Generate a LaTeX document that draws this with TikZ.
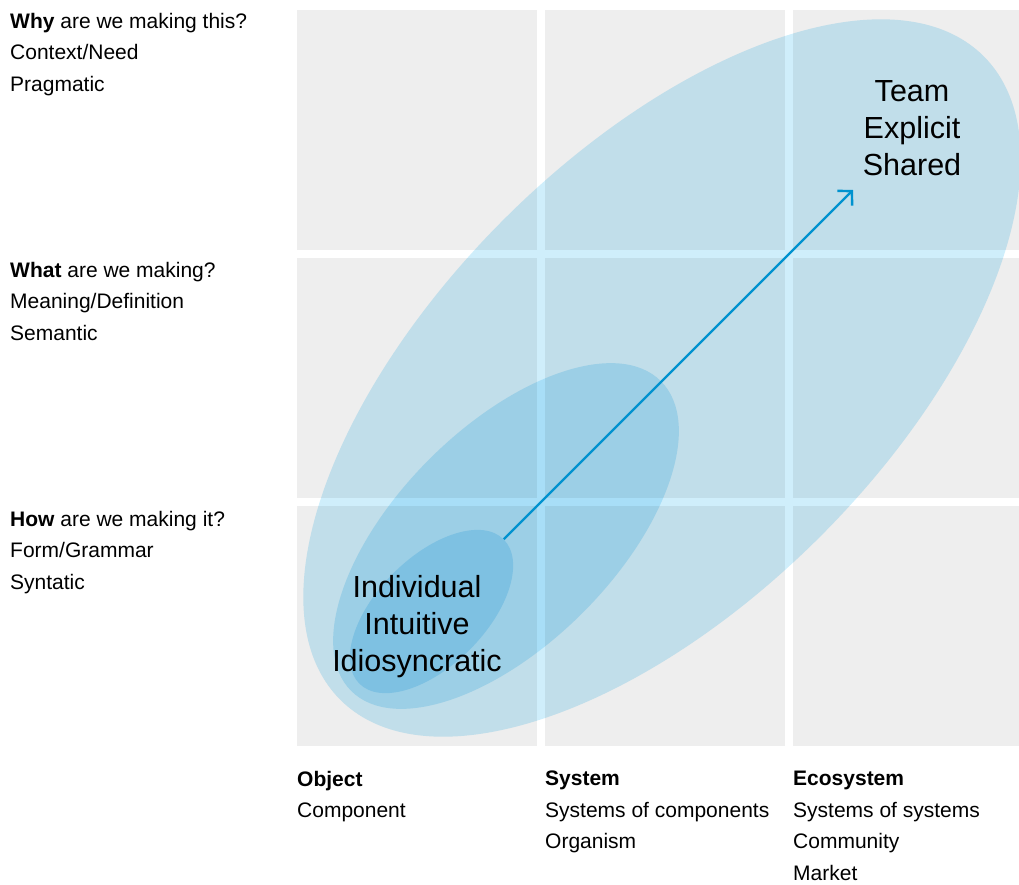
\documentclass[tikz,border=0pt]{standalone}
\usepackage{fontspec}
\setmainfont{Liberation Sans}
\usetikzlibrary{shapes.geometric,arrows.meta}
\definecolor{cellgray}{HTML}{EEEEEE}
\definecolor{blobblue}{RGB}{207,238,251}
\definecolor{arrowblue}{RGB}{0,146,207}

\begin{document}
\begin{tikzpicture}[x=1pt, y=-1pt,
    cell/.style={fill=cellgray},
    blob/.style={ellipse, fill=blobblue, inner sep=0pt, rotate=45},
    arrowline/.style={draw=arrowblue, line width=2.4pt, -{Straight Barb[length=10pt, width=21pt]}},
    axislabel/.style={anchor=north west, inner sep=0pt, align=left, font=\fontsize{21}{31.5}\selectfont},
    biglabel/.style={anchor=north, inner sep=0pt, align=center, font=\fontsize{30.5}{37}\selectfont}]
    \useasboundingbox (0,0) rectangle (1019,884);

    % Grid of cells
    \foreach \cx in {297,545,793} {
      \foreach \cy in {10,258,506} {
        \fill[cell] (\cx,\cy) rectangle ++(240,239.5);
      }
    }

    % Ellipses
    \begin{scope}[blend mode=multiply]
    \node (outerblob) [blob, minimum width=910pt, minimum height=448pt] at (662,378) {};
    \node (midblob) [blob, minimum width=438pt, minimum height=217pt] at (506,536) {};
    \node (innerblob) [blob, minimum width=204pt, minimum height=108pt] at (431.5,611.5) {};
    \end{scope}

    % Arrow
    \coordinate (tip) at (853,190);
    \draw[arrowline] (innerblob.east) -- (tip);

    % Row labels
    \node (why) [axislabel] at (10,12.7) {\textbf{Why} are we making this?\\Context/Need\\Pragmatic};
    \node (what) [axislabel] at (10,261.7) {\textbf{What} are we making?\\Meaning/Definition\\Semantic};
    \node (how) [axislabel] at (10,510.7) {\textbf{How} are we making it?\\Form/Grammar\\Syntatic};

    % Column labels
    \node (object) [axislabel] at (297,771) {\textbf{Object}\\Component};
    \node (system) [axislabel] at (545,771) {\textbf{System}\\Systems of components\\Organism};
    \node (ecosystem) [axislabel] at (793,771) {\textbf{Ecosystem}\\Systems of systems\\Community\\Market};

    % Ellipse labels
    \node (individual) [biglabel] at (417,575) {Individual\\Intuitive\\Idiosyncratic};
    \node (team) [biglabel] at (912,80) {Team\\Explicit\\Shared};
\end{tikzpicture}
\end{document}
